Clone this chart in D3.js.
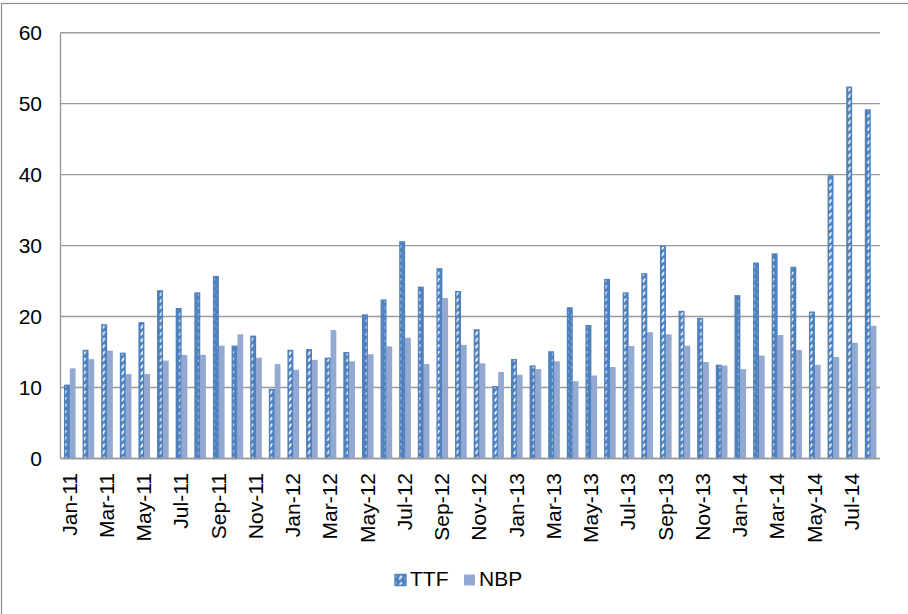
<!DOCTYPE html>
<html>
<head>
<meta charset="utf-8">
<script src="https://cdn.jsdelivr.net/npm/d3@7"></script>
<style>
  html, body { margin: 0; padding: 0; background: #fff; overflow: hidden; }
  svg text { font-family: "Liberation Sans", Arial, sans-serif; fill: #000; }
</style>
</head>
<body>
<svg id="chart"></svg>
<script>
// ---------------------------
// TTF vs NBP monthly bars, Jan-11 .. Aug-14
// ---------------------------

const months = [
  "Jan-11","Feb-11","Mar-11","Apr-11","May-11","Jun-11","Jul-11","Aug-11","Sep-11","Oct-11","Nov-11","Dec-11",
  "Jan-12","Feb-12","Mar-12","Apr-12","May-12","Jun-12","Jul-12","Aug-12","Sep-12","Oct-12","Nov-12","Dec-12",
  "Jan-13","Feb-13","Mar-13","Apr-13","May-13","Jun-13","Jul-13","Aug-13","Sep-13","Oct-13","Nov-13","Dec-13",
  "Jan-14","Feb-14","Mar-14","Apr-14","May-14","Jun-14","Jul-14","Aug-14"
];
const ttf = [
  10.4, 15.3, 18.9, 14.9, 19.2, 23.7, 21.2, 23.4, 25.7, 15.9, 17.3, 9.8,
  15.3, 15.4, 14.2, 15.0, 20.3, 22.4, 30.6, 24.2, 26.8, 23.6, 18.2, 10.2,
  14.0, 13.1, 15.1, 21.3, 18.8, 25.3, 23.4, 26.1, 30.0, 20.8, 19.8, 13.2,
  23.0, 27.6, 28.9, 27.0, 20.7, 39.9, 52.4, 49.2
];
const nbp = [
  12.7, 14.0, 15.2, 11.9, 11.9, 13.8, 14.6, 14.6, 15.9, 17.5, 14.2, 13.3,
  12.5, 13.9, 18.1, 13.7, 14.7, 15.8, 17.0, 13.3, 22.6, 16.0, 13.4, 12.2,
  11.8, 12.6, 13.7, 10.9, 11.7, 12.9, 15.85, 17.8, 17.5, 15.9, 13.6, 13.1,
  12.6, 14.5, 17.4, 15.3, 13.2, 14.3, 16.3, 18.7
];
const seriesNames = ["TTF", "NBP"];
const yTicks = [0, 10, 20, 30, 40, 50, 60];

const width = 908, height = 614;
const blue = "#4f81bd";
const lightBlue = "#93a9d1";
const gridGray = "#9a9a9a";

const svg = d3.select("#chart").attr("width", width).attr("height", height);
const defs = svg.append("defs");

// hatched fill, one pattern per bar so every bar starts on the same phase
function addHatch(id, x0) {
    const p = defs.append("pattern")
        .attr("id", id)
        .attr("patternUnits", "userSpaceOnUse")
        .attr("x", x0).attr("y", 0)
        .attr("width", 6).attr("height", 6.6);
    p.append("rect").attr("width", 6).attr("height", 6.6).attr("fill", blue);
    p.append("line")
        .attr("x1", 1.8).attr("y1", 5.2).attr("x2", 4.2).attr("y2", 1.4)
        .attr("stroke", "#fff").attr("stroke-width", 1.7);
    return `url(#${id})`;
}

// chart area border (cut by the window on right / bottom)
svg.append("rect")
    .attr("x", 1.5).attr("y", 3.5)
    .attr("width", width + 10).attr("height", height + 10)
    .attr("fill", "none").attr("stroke", "#8c8c8c").attr("stroke-width", 1.2);

// scales
const x = d3.scaleBand()
    .domain(months)
    .range([60.5, 880])
    .paddingInner(0.38)
    .paddingOuter(0.19);
const xSub = d3.scaleBand().domain(seriesNames).range([0, x.bandwidth()]);
const y = d3.scaleLinear().domain([0, 60]).range([458.5, 32.7]);

// gridlines
svg.append("g").selectAll("line")
    .data(yTicks)
    .join("line")
    .attr("x1", 60.5).attr("x2", 880)
    .attr("y1", d => y(d)).attr("y2", d => y(d))
    .attr("stroke", gridGray).attr("stroke-width", 1.4);

// y labels
svg.append("g").selectAll("text")
    .data(yTicks)
    .join("text")
    .attr("x", 42).attr("y", d => y(d))
    .attr("dy", "0.35em")
    .attr("text-anchor", "end")
    .style("font-size", "21px")
    .text(d => d);

// bars
const rows = months.map((m, i) => ({ m, i, ttf: ttf[i], nbp: nbp[i] }));
const groups = svg.append("g").selectAll("g")
    .data(rows)
    .join("g")
    .attr("transform", d => `translate(${x(d.m)},0)`);

groups.append("rect")
    .attr("x", xSub("NBP"))
    .attr("width", xSub.bandwidth())
    .attr("y", d => y(d.nbp))
    .attr("height", d => y(0) - y(d.nbp))
    .attr("fill", lightBlue);

groups.append("rect")
    .attr("x", xSub("TTF") + 0.6)
    .attr("width", xSub.bandwidth() - 1.2)
    .attr("y", d => y(d.ttf) + 0.6)
    .attr("height", d => y(0) - y(d.ttf) - 0.6)
    .attr("fill", d => addHatch("ttf" + d.i, x(d.m) + xSub("TTF")))
    .attr("stroke", blue).attr("stroke-width", 1.4);

// axis lines
svg.append("line")
    .attr("x1", 60.5).attr("x2", 60.5).attr("y1", y(60)).attr("y2", y(0))
    .attr("stroke", gridGray).attr("stroke-width", 1.4);
svg.append("line")
    .attr("x1", 60.5).attr("x2", 880).attr("y1", y(0)).attr("y2", y(0))
    .attr("stroke", gridGray).attr("stroke-width", 1.4);

// x labels, every second month
const xLabels = months.filter((m, i) => i % 2 === 0);
svg.append("g").selectAll("text")
    .data(xLabels)
    .join("text")
    .attr("transform", d => `translate(${x(d) + x.bandwidth() / 2 - 0.5},473) rotate(-90)`)
    .attr("dy", "0.35em")
    .attr("text-anchor", "end")
    .style("font-size", "21px")
    .text(d => d);

// legend
const legend = svg.append("g");
legend.append("rect")
    .attr("x", 395).attr("y", 574.5).attr("width", 11).attr("height", 11)
    .attr("fill", addHatch("ttfLegend", 397.5)).attr("stroke", blue).attr("stroke-width", 1.4);
legend.append("text")
    .attr("x", 410).attr("y", 586)
    .style("font-size", "21px")
    .text("TTF");
legend.append("rect")
    .attr("x", 464).attr("y", 574.5).attr("width", 11).attr("height", 11)
    .attr("fill", lightBlue);
legend.append("text")
    .attr("x", 479).attr("y", 586)
    .style("font-size", "21px")
    .text("NBP");
</script>
</body>
</html>
